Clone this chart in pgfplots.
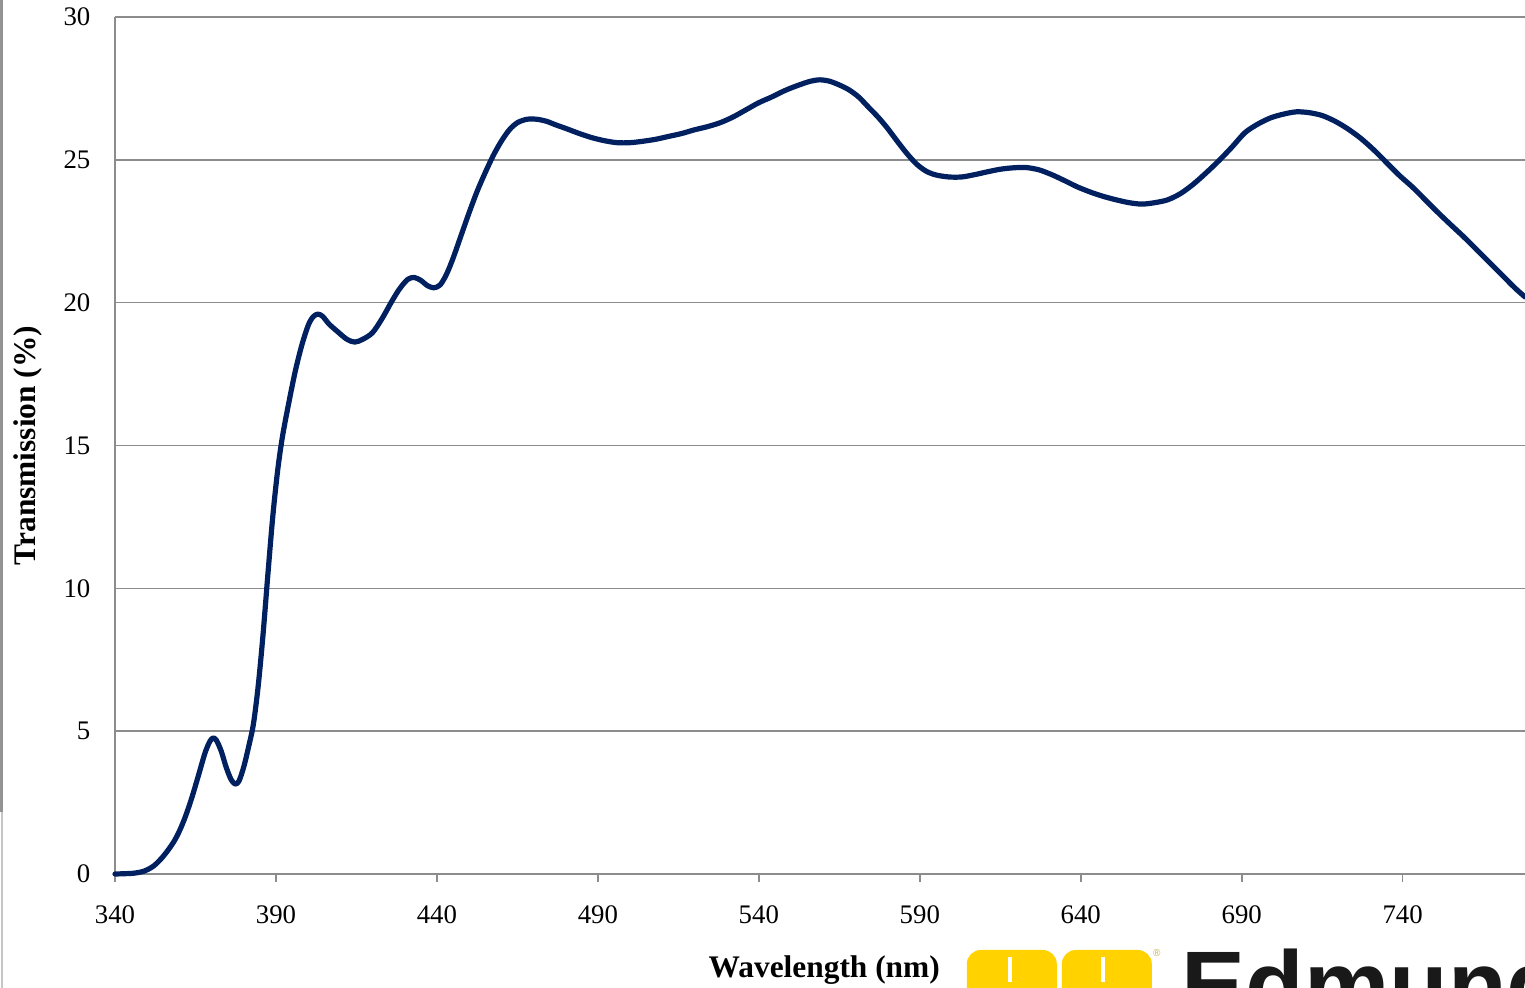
\documentclass[border=0pt]{standalone}
\usepackage{fontspec}
\setmainfont{Liberation Serif}
\newfontfamily\logofont{Liberation Sans}
\usepackage{pgfplots}
\pgfplotsset{compat=1.18}
\definecolor{curve}{HTML}{002060}
\definecolor{gridgray}{HTML}{8C8C8C}
\definecolor{logoyellow}{HTML}{FFD200}
\begin{document}
\begin{tikzpicture}
\useasboundingbox (-57.5pt,-57pt) rectangle (705pt,437pt);
\clip (-57.5pt,-57pt) rectangle (705pt,437pt);
\fill[gray!85] (-57.5pt,437pt) rectangle (-56.2pt,31.15pt);
\fill[gray!45] (-57.2pt,31.15pt) rectangle (-55.8pt,-57pt);
\begin{axis}[
  at={(0pt,0pt)}, anchor=south west,
  scale only axis, width=705pt, height=428.5pt,
  xmin=340, xmax=778, ymin=0, ymax=30,
  xtick={340,390,...,740}, ytick={0,5,...,30},
  axis x line=bottom, axis y line=left,
  axis line style={gridgray, line width=0.8pt, -},
  ymajorgrids, major grid style={gridgray, line width=0.8pt},
  tick align=outside, major tick length=4pt,
  xtick style={gridgray, line width=0.8pt},
  ytick style={draw=none},
  /pgf/number format/assume math mode=true,
  tick label style={font=\fontsize{13.4}{16}\selectfont},
  xticklabel style={yshift=-8.5pt},
  yticklabel style={xshift=-4.8pt},
  label style={font=\fontsize{15.7}{18}\selectfont\bfseries},
  xlabel={Wavelength (nm)},
  ylabel={Transmission (\%)},
  xlabel style={at={(axis description cs:0.503,-0.1125)}, anchor=center},
  ylabel style={at={(axis description cs:-0.0617,0.5)}, anchor=center},
  clip=false,
]
\addplot[curve, line width=2.6pt, smooth, line join=round, line cap=round] coordinates {
(340,0.00) (343,0.01) (346,0.03) (349,0.1) (352,0.28) (355,0.62) (358,1.08)
(360,1.5) (362,2.05) (364,2.72) (366,3.48) (368,4.25) (369.5,4.65)
(370.5,4.76) (371.5,4.68) (373,4.3) (374.5,3.75) (376,3.32) (377.3,3.15)
(378.5,3.25) (380,3.75) (381.5,4.45) (383,5.25) (384.5,6.6) (386,8.4)
(387.5,10.5) (389,12.5) (390.5,14.1) (392,15.3) (394,16.5) (396,17.6) (398,18.5)
(400,19.2) (401.5,19.5) (403,19.6) (404.5,19.52) (406.5,19.25) (409,19.0)
(412,18.72) (414.5,18.62) (417,18.72) (420,18.95) (423,19.45) (426,20.05)
(428.5,20.5) (431,20.82) (433,20.88) (435,20.78) (437,20.6) (439,20.52)
(441,20.62) (443,21.0) (445,21.55) (447.5,22.35) (450,23.15) (452.5,23.9)
(455,24.55) (457.5,25.15) (460,25.65) (462.5,26.05) (465,26.3) (468,26.42)
(471,26.42) (474,26.35) (477,26.22) (480,26.1) (484,25.93) (488,25.78)
(492,25.67) (496,25.6) (500,25.6) (504,25.65) (508,25.72) (512,25.82)
(516,25.92) (520,26.05) (524,26.16) (528,26.3) (532,26.5) (536,26.75)
(540,27.0) (544,27.2) (548,27.42) (552,27.6) (556,27.75) (559,27.8)
(562,27.75) (565,27.62) (568,27.45) (571,27.2) (574,26.85) (577,26.5)
(580,26.1) (583,25.65) (586,25.22) (589,24.85) (592,24.6) (595,24.47)
(599,24.4) (603,24.4) (607,24.48) (611,24.58) (615,24.67) (619,24.72)
(623,24.73) (627,24.65) (631,24.48) (635,24.27) (639,24.05) (643,23.87)
(647,23.72) (651,23.6) (655,23.5) (659,23.45) (663,23.5) (667,23.6)
(671,23.82) (675,24.15) (679,24.55) (683,24.98) (687,25.45) (691,25.95)
(695,26.25) (699,26.47) (703,26.6) (707,26.68) (711,26.65) (715,26.55)
(719,26.35) (723,26.08) (727,25.75) (731,25.35) (735,24.9) (739,24.45)
(743,24.05) (747,23.6) (751,23.15) (755,22.72) (759,22.3) (763,21.85)
(767,21.4) (771,20.95) (775,20.5) (778,20.2)
};
\end{axis}
\fill[logoyellow, rounded corners=7pt] (425.9pt,-38pt) rectangle (470.9pt,-80pt);
\fill[logoyellow, rounded corners=7pt] (473.4pt,-38pt) rectangle (518.4pt,-80pt);
\fill[white] (446.5pt,-41.4pt) rectangle (448.5pt,-54pt);
\fill[white] (493.2pt,-41.4pt) rectangle (495.2pt,-54pt);
\node[font=\logofont\fontsize{5}{6}\selectfont, text=logoyellow!60!gray, inner sep=0pt] at (520.9pt,-39.4pt) {®};
\node[anchor=base west, inner sep=0pt, font=\logofont\bfseries\fontsize{48}{52}\selectfont, text=black!90] at (533pt,-72.4pt) {Edmund Optics};
\end{tikzpicture}
\end{document}
